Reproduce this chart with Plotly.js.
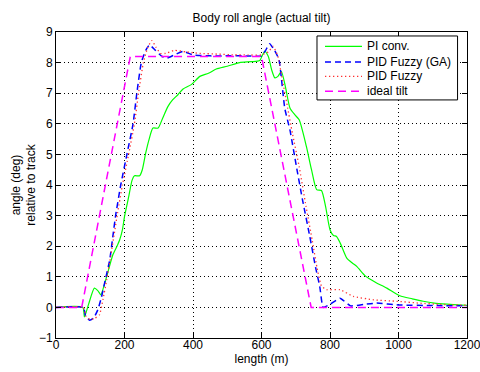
<!DOCTYPE html>
<html>
<head>
<meta charset="utf-8">
<script src="https://cdn.plot.ly/plotly-3.0.1.min.js"></script>
<style>html,body{margin:0;padding:0;background:#fff}#chart{width:480px;height:372px}</style>
</head>
<body>
<div id="chart"></div>
<script>
// PI conv.
var piX = [0, 78, 83, 95, 112, 122, 131, 140, 148, 166, 178, 186, 194, 200, 212, 222, 229, 244, 252, 262, 272, 283, 298, 312, 327, 341, 356, 371, 395, 420, 445, 468, 500, 536, 570, 595, 603, 610, 620, 630, 639, 648, 658, 670, 683, 697, 710, 731, 746, 761, 775, 787, 800, 810, 819, 830, 849, 865, 878, 902, 920, 936, 966, 1004, 1040, 1072, 1110, 1160, 1200];
var piY = [0, 0, -0.31, 0.1, 0.63, 0.55, 0.41, 0.7, 1.01, 1.72, 2.0, 2.21, 2.54, 2.97, 3.6, 4.15, 4.3, 4.3, 4.5, 5.05, 5.5, 5.86, 5.86, 6.2, 6.57, 6.79, 6.95, 7.14, 7.28, 7.55, 7.65, 7.79, 7.88, 8.0, 8.03, 8.07, 8.25, 8.37, 8.2, 7.75, 7.5, 7.55, 7.71, 7.2, 6.52, 6.3, 6.13, 5.26, 4.5, 3.85, 3.82, 3.3, 2.54, 2.35, 2.32, 2.1, 1.61, 1.45, 1.34, 1.04, 0.9, 0.8, 0.63, 0.38, 0.28, 0.2, 0.13, 0.09, 0.07];
// PID Fuzzy (GA)
var gaX = [0, 80, 86, 98, 110, 122, 132, 142, 157, 166, 174, 189, 207, 225, 236, 249, 262, 273, 290, 310, 325, 345, 371, 400, 450, 500, 550, 600, 612, 624, 638, 651, 668, 683, 702, 720, 741, 758, 770, 780, 800, 829, 860, 900, 936, 1000, 1100, 1200];
var gaY = [0, 0, -0.27, -0.42, -0.35, -0.08, 0.3, 0.8, 1.56, 2.32, 3.0, 4.0, 5.0, 6.0, 7.0, 8.0, 8.4, 8.58, 8.4, 8.2, 8.15, 8.25, 8.37, 8.25, 8.22, 8.22, 8.22, 8.22, 8.4, 8.62, 8.4, 8.1, 6.5, 5.8, 4.6, 3.5, 2.32, 1.3, 0.69, 0.0, 0.1, 0.3, 0.05, 0.1, 0.14, 0.08, 0.06, 0.05];
// PID Fuzzy
var fzX = [0, 80, 88, 100, 114, 127, 137, 148, 160, 170, 180, 194, 212, 229, 241, 255, 268, 280, 292, 305, 320, 346, 380, 420, 470, 520, 560, 600, 620, 634, 648, 660, 675, 690, 710, 730, 748, 762, 775, 790, 829, 868, 926, 995, 1060, 1121, 1200];
var fzY = [0, 0, -0.3, -0.4, -0.35, -0.24, 0.25, 0.9, 1.7, 2.4, 3.1, 4.0, 5.0, 6.0, 7.0, 8.0, 8.5, 8.72, 8.5, 8.3, 8.3, 8.4, 8.35, 8.3, 8.28, 8.25, 8.25, 8.25, 8.35, 8.53, 8.2, 7.5, 6.6, 5.7, 4.6, 3.3, 2.2, 1.3, 0.7, 0.58, 0.58, 0.36, 0.25, 0.2, 0.14, 0.1, 0.07];
// ideal tilt
var idX = [0, 75, 217, 600, 745, 1200];
var idY = [0, 0, 8.2, 8.2, 0, 0];

var seriesNames = ['PI conv.', 'PID Fuzzy (GA)', 'PID Fuzzy', 'ideal tilt'];
var xTicks = [0, 200, 400, 600, 800, 1000, 1200];
var yTicks = [-1, 0, 1, 2, 3, 4, 5, 6, 7, 8, 9];

var styles = [
  {color: '#00ff00', width: 1.2, dash: 'solid'},
  {color: '#0000ff', width: 1.5, dash: '6px,4px'},
  {color: '#ff3030', width: 1.3, dash: '1.3px,2.7px'},
  {color: '#ff00ff', width: 1.5, dash: '8px,5px'}
];

var traces = [
  {x: piX, y: piY, name: seriesNames[0], mode: 'lines', line: {color: styles[0].color, width: styles[0].width, shape: 'spline', smoothing: 0.6}},
  {x: gaX, y: gaY, name: seriesNames[1], mode: 'lines', line: {color: styles[1].color, width: styles[1].width, dash: styles[1].dash, shape: 'spline', smoothing: 0.4}},
  {x: fzX, y: fzY, name: seriesNames[2], mode: 'lines', line: {color: styles[2].color, width: styles[2].width, dash: styles[2].dash, shape: 'spline', smoothing: 0.4}},
  {x: idX, y: idY, name: seriesNames[3], mode: 'lines', line: {color: styles[3].color, width: styles[3].width, dash: styles[3].dash}}
];

// custom legend (compact, MATLAB-like)
var lg = {x0: 0.635, x1: 0.977, y0: 0.778, y1: 0.987, lx0: 0.6545, lx1: 0.7445, tx: 0.753, rows: [0.953, 0.902, 0.855, 0.806]};
var shapes = [{type: 'rect', xref: 'paper', yref: 'paper', x0: lg.x0, x1: lg.x1, y0: lg.y0, y1: lg.y1,
  line: {color: '#000', width: 1}, fillcolor: '#fff', layer: 'above'}];
var annotations = [];
seriesNames.forEach(function(n, i) {
  shapes.push({type: 'line', xref: 'paper', yref: 'paper', x0: lg.lx0, x1: lg.lx1, y0: lg.rows[i], y1: lg.rows[i],
    line: {color: styles[i].color, width: styles[i].width, dash: styles[i].dash}, layer: 'above'});
  annotations.push({xref: 'paper', yref: 'paper', x: lg.tx, y: lg.rows[i], xanchor: 'left', yanchor: 'middle',
    text: n, showarrow: false, font: {size: 12, color: '#000'}});
});

var axisCommon = {
  showline: true, linecolor: '#000', linewidth: 1, mirror: 'allticks',
  ticks: 'inside', ticklen: 5, tickcolor: '#000', tickwidth: 1,
  showgrid: true, gridcolor: '#000', gridwidth: 1, griddash: '1px,3px',
  zeroline: false, tickfont: {family: 'Liberation Sans, Arial, sans-serif', size: 12, color: '#000'}
};

var layout = {
  width: 480, height: 372,
  margin: {l: 56, r: 13, t: 32, b: 34},
  paper_bgcolor: '#fff', plot_bgcolor: '#fff',
  font: {family: 'Liberation Sans, Arial, sans-serif', size: 12, color: '#000'},
  title: {text: 'Body roll angle (actual tilt)', font: {size: 12, color: '#000'}, x: 0.545, xanchor: 'center', y: 0.952, yanchor: 'middle'},
  xaxis: Object.assign({}, axisCommon, {range: [0, 1200], tickvals: xTicks, ticktext: xTicks.map(String),
    ticklabeloverflow: 'allow', ticklabelstandoff: -4,
    title: {text: 'length (m)', font: {size: 12}, standoff: 0}}),
  yaxis: Object.assign({}, axisCommon, {range: [-1, 9], tickvals: yTicks, ticktext: yTicks.map(function(v){return v < 0 ? '\u2212' + Math.abs(v) : String(v);}),
    title: {text: 'angle (deg)<br>relative to track', font: {size: 12}, standoff: 0}}),
  showlegend: false,
  shapes: shapes,
  annotations: annotations
};

Plotly.newPlot('chart', traces, layout, {displayModeBar: false, staticPlot: true});
</script>
</body>
</html>
